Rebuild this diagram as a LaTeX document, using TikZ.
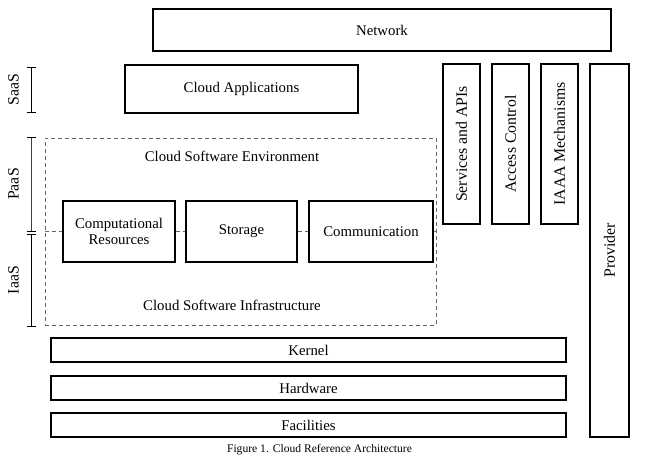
\documentclass[tikz,border=0pt]{standalone}
\usepackage{fontspec}
\setmainfont{Liberation Serif}
\begin{document}
\begin{tikzpicture}[x=1pt,y=-1pt,
  blk/.style={draw=black,line width=1.4pt,inner sep=0pt,font=\fontsize{14.8}{16.5}\selectfont},
  dsh/.style={draw=black!60,line width=1pt,dash pattern=on 4pt off 3pt},
  brk/.style={draw=black,line width=1pt},
  lbl/.style={font=\fontsize{14.8}{16.5}\selectfont,inner sep=0pt},
  vlbl/.style={font=\fontsize{15.8}{17}\selectfont,inner sep=0pt,rotate=90}]
\useasboundingbox (0,0) rectangle (655,466);
% boxes
\node[blk,minimum width=458pt,minimum height=42pt] (net) at (382,30) {Network};
\node[blk,minimum width=233pt,minimum height=48pt] (app) at (241.5,89) {Cloud Applications};
\node[blk,minimum width=37pt,minimum height=160pt] (svc) at (461.5,144) {};
\node[vlbl] at (svc) {Services and APIs};
\node[blk,minimum width=37pt,minimum height=160pt] (acc) at (510.5,144) {};
\node[vlbl] at (acc) {Access Control};
\node[blk,minimum width=37pt,minimum height=160pt] (iaaa) at (559.5,144) {};
\node[vlbl] at (iaaa) {IAAA Mechanisms};
\node[blk,minimum width=39pt,minimum height=373pt] (prov) at (609.5,250.5) {};
\node[vlbl] at (prov) {Provider};
% dashed container
\node[dsh,minimum width=391pt,minimum height=187pt,inner sep=0pt] (env) at (240.5,231.5) {};
\node[lbl] (envt) at (232,156) {Cloud Software Environment};
\node[lbl] (inft) at (232,305) {Cloud Software Infrastructure};
\node[blk,minimum width=112pt,minimum height=61pt,align=center] (comp) at (119,231.5) {Computational\\Resources};
\node[blk,minimum width=111pt,minimum height=61pt] (stor) at (241.5,231.5) {Storage};
\node[blk,minimum width=124pt,minimum height=61pt] (comm) at (371,231.5) {Communication};
\draw[dsh] (env.west |- comp.west) -- (comp.west);
\draw[dsh] (comp.east) -- (stor.west);
\draw[dsh] (stor.east) -- (comm.west);
\draw[dsh] (comm.east) -- (env.east |- comm.east);
% bottom layers
\node[blk,minimum width=515pt,minimum height=24pt] (ker) at (308.5,350) {Kernel};
\node[blk,minimum width=515pt,minimum height=24pt] (hw) at (308.5,388) {Hardware};
\node[blk,minimum width=515pt,minimum height=24pt] (fac) at (308.5,425) {Facilities};
\node[font=\fontsize{11.6}{13}\selectfont,inner sep=0pt] (cap) at (319.5,450) {Figure 1. Cloud Reference Architecture};
% brackets
\coordinate (s1) at (31,67); \coordinate (s2) at (31,112);
\coordinate (p1) at (31,137); \coordinate (p2) at (31,231);
\coordinate (i1) at (31,234); \coordinate (i2) at (31,326);
\draw[brk] (s1) -- (s2);
\draw[brk] ([xshift=-4.5pt]s1) -- ([xshift=4.5pt]s1);
\draw[brk] ([xshift=-4.5pt]s2) -- ([xshift=4.5pt]s2);
\draw[brk,draw=black!75] (p1) -- (p2);
\draw[brk] ([xshift=-4.5pt]p1) -- ([xshift=4.5pt]p1);
\draw[brk] ([xshift=-4.5pt]p2) -- ([xshift=4.5pt]p2);
\draw[brk] (i1) -- (i2);
\draw[brk] ([xshift=-4.5pt]i1) -- ([xshift=4.5pt]i1);
\draw[brk] ([xshift=-4.5pt]i2) -- ([xshift=4.5pt]i2);
\node[vlbl] (saas) at (13.5,89.5) {SaaS};
\node[vlbl] (paas) at (13.5,184) {PaaS};
\node[vlbl] (iaas) at (13.5,280) {IaaS};
\end{tikzpicture}
\end{document}
